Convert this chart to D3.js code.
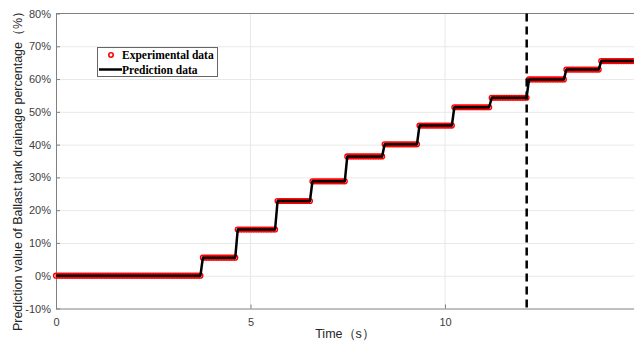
<!DOCTYPE html>
<html>
<head>
<meta charset="utf-8">
<script src="https://cdn.jsdelivr.net/npm/d3@7/dist/d3.min.js"></script>
<style>
  html, body { margin: 0; padding: 0; background: #fff; }
  svg { display: block; }
</style>
</head>
<body>
<script>
// Axis ticks
const xTicks = [0, 5, 10];
const yTicks = [-10, 0, 10, 20, 30, 40, 50, 60, 70, 80];

// Drainage record: the percentage holds a level until each step time, then jumps
const stepTimes  = [3.74, 4.65, 5.66, 6.58, 7.43, 8.44, 9.34, 10.24, 11.16, 12.13, 13.06, 13.96];
const stepLevels = [0, 5.5, 14.1, 22.8, 28.8, 36.4, 40.1, 45.8, 51.4, 54.3, 59.9, 62.9, 65.5];
const sampleStep = 0.064;   // seconds between recorded samples
const endTime = 14.9;
const markerTime = 12.1;    // dashed reference time

const legendItems = ["Experimental data", "Prediction data"];

// Sample series: each recorded time takes the level of the plateau it falls in
const samples = d3.range(0, endTime + 1e-9, sampleStep).map(t => ({
  t,
  v: stepLevels[d3.bisectRight(stepTimes, t)]
}));

const W = 634, H = 347;
const svg = d3.select("body").append("svg").attr("width", W).attr("height", H);
svg.append("rect").attr("width", W).attr("height", H).attr("fill", "#fff");

const plotLeft = 56, plotTop = 13.5, plotBottom = 308.5;
const x = d3.scaleLinear().domain([0, 15]).range([plotLeft, plotLeft + 15 * 38.9]);
const y = d3.scaleLinear().domain([-10, 80]).range([plotBottom, plotTop]);

const axisColor = "#808080";
const textColor = "#404040";
const sans = "'Liberation Sans', Arial, sans-serif";

// Grid
const grid = svg.append("g");
grid.selectAll("line.h").data(yTicks.filter(d => d > -10 && d < 80)).join("line")
  .attr("x1", plotLeft).attr("x2", W).attr("y1", d => y(d) + 0.5).attr("y2", d => y(d) + 0.5)
  .attr("stroke", "#e8e8e8").attr("stroke-width", 1);
grid.selectAll("line.v").data(xTicks.filter(d => d > 0)).join("line")
  .attr("x1", d => x(d)).attr("x2", d => x(d)).attr("y1", plotTop).attr("y2", plotBottom)
  .attr("stroke", "#e8e8e8").attr("stroke-width", 1);

// Top border
svg.append("line").attr("x1", plotLeft).attr("x2", W).attr("y1", plotTop).attr("y2", plotTop)
  .attr("stroke", axisColor).attr("stroke-width", 1);

// Axes
const xAxis = svg.append("g").attr("transform", `translate(0,${plotBottom})`)
  .call(d3.axisBottom(x).tickValues(xTicks).tickFormat(d3.format("d"))
    .tickSizeInner(-4).tickSizeOuter(0).tickPadding(10));
const yAxis = svg.append("g").attr("transform", `translate(${plotLeft},0)`)
  .call(d3.axisLeft(y).tickValues(yTicks).tickFormat(d => d + "%")
    .tickSizeInner(-4).tickSizeOuter(0).tickPadding(5));
[xAxis, yAxis].forEach(g => {
  g.select(".domain").attr("stroke", axisColor);
  g.selectAll(".tick line").attr("stroke", axisColor);
  g.selectAll(".tick text")
    .style("fill", textColor)
    .style("font-family", sans).style("font-size", "11px");
});
xAxis.select(".domain").attr("d", `M${plotLeft},0.5H${W}`);

// Axis titles
svg.append("text")
  .attr("x", 345).attr("y", 338)
  .attr("text-anchor", "middle")
  .style("fill", "#262626")
  .style("font-family", sans).style("font-size", "12.5px")
  .text("Time（s）");
svg.append("text")
  .attr("transform", "translate(22,168) rotate(-90)")
  .attr("text-anchor", "middle")
  .style("fill", "#262626")
  .style("font-family", sans).style("font-size", "12.5px")
  .text("Prediction value of Ballast tank drainage percentage（%）");

// Experimental samples
svg.append("g").selectAll("circle").data(samples).join("circle")
  .attr("cx", d => x(d.t)).attr("cy", d => y(d.v)).attr("r", 2.4)
  .attr("fill", "none").attr("stroke", "#ff0000").attr("stroke-width", 1.4);

// Prediction line
svg.append("path").datum(samples)
  .attr("d", d3.line().x(d => x(d.t)).y(d => y(d.v)))
  .attr("fill", "none").attr("stroke", "#000").attr("stroke-width", 2.5)
  .attr("stroke-linejoin", "round");

// Dashed reference line
svg.append("line")
  .attr("x1", x(markerTime)).attr("x2", x(markerTime))
  .attr("y1", plotTop).attr("y2", plotBottom)
  .attr("stroke", "#000").attr("stroke-width", 2.5).attr("stroke-dasharray", "8,5");

// Legend
const lg = svg.append("g");
lg.append("rect").attr("x", 97.5).attr("y", 47.5).attr("width", 120).attr("height", 29)
  .attr("fill", "#fff").attr("stroke", "#666").attr("stroke-width", 1);
lg.append("circle").attr("cx", 111).attr("cy", 55).attr("r", 2.2)
  .attr("fill", "none").attr("stroke", "#ff0000").attr("stroke-width", 1.6);
lg.append("line").attr("x1", 99).attr("x2", 122).attr("y1", 69.5).attr("y2", 69.5)
  .attr("stroke", "#000").attr("stroke-width", 2.5);
lg.selectAll("text").data(legendItems).join("text")
  .attr("x", 122).attr("y", (d, i) => 59 + i * 14.5)
  .style("fill", "#000")
  .style("font-family", "'Liberation Serif', 'Times New Roman', serif")
  .style("font-weight", "bold").style("font-size", "11.5px")
  .text(d => d);
</script>
</body>
</html>
